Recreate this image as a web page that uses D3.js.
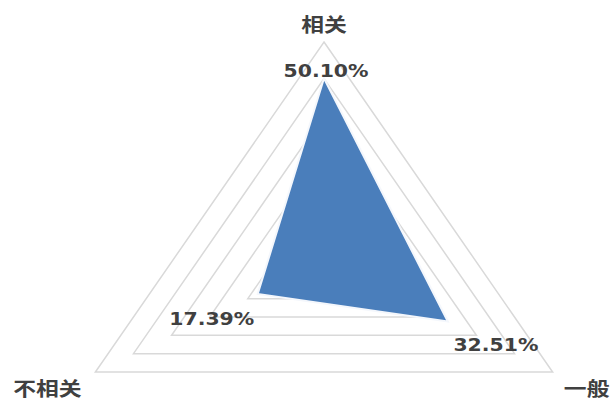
<!DOCTYPE html>
<html>
<head>
<meta charset="utf-8">
<script src="https://cdn.jsdelivr.net/npm/d3@7/dist/d3.min.js"></script>
<style>
  html, body { margin: 0; padding: 0; background: #fff; }
  svg { display: block; }
</style>
</head>
<body>
<svg id="chart" width="613" height="401"></svg>
<script>
// ---- data ----
const categories = ["相关", "一般", "不相关"];
const values = [0.5010, 0.3251, 0.1739];
const valueLabels = ["50.10%", "32.51%", "17.39%"];
const ringTicks = [0.1, 0.2, 0.3, 0.4, 0.5, 0.6];

// ---- layout ----
const W = 613, H = 401;
const cx = 324, cy = 262;
const sx = 1.2; // horizontal stretch of the original picture
const r = d3.scaleLinear().domain([0, 0.6]).range([0, 220]);
const angle = d3.scalePoint().domain(categories).range([-Math.PI / 2, -Math.PI / 2 + 2 * Math.PI * 2 / 3]);

function pt(cat, v) {
  const a = angle(cat);
  return [cx + sx * r(v) * Math.cos(a), cy + r(v) * Math.sin(a)];
}

const svg = d3.select("#chart");
svg.append("rect").attr("width", W).attr("height", H).attr("fill", "#fff");

// grid rings
const line = d3.line().curve(d3.curveLinearClosed);
svg.append("g").selectAll("path")
  .data(ringTicks)
  .join("path")
  .attr("d", t => line(categories.map(c => pt(c, t))))
  .attr("fill", "none")
  .attr("stroke", "#d9d9d9")
  .attr("stroke-width", 1.5);

// data polygon
svg.append("path")
  .attr("d", line(categories.map((c, i) => pt(c, values[i]))))
  .attr("fill", "#4a7ebb")
  .attr("stroke", "#f4f7fc")
  .attr("stroke-width", 2)
  .attr("stroke-linejoin", "miter");

// category labels
const catOffsets = [[0, -18], [34, 16], [-48, 16]];
svg.append("g").selectAll("text")
  .data(categories)
  .join("text")
  .attr("transform", (c, i) => {
    const p = pt(c, 0.6);
    return `translate(${p[0] + catOffsets[i][0]},${p[1] + catOffsets[i][1]}) scale(${sx},1)`;
  })
  .attr("text-anchor", "middle")
  .attr("dominant-baseline", "central")
  .attr("font-family", "'Noto Sans CJK SC', 'Noto Sans', sans-serif")
  .attr("font-weight", "bold")
  .attr("font-size", 19)
  .attr("fill", "#404040")
  .text(c => c);

// value labels
const valOffsets = [[2, -7], [48, 24], [-46, 25]];
svg.append("g").selectAll("text")
  .data(categories)
  .join("text")
  .attr("transform", (c, i) => {
    const p = pt(c, values[i]);
    return `translate(${p[0] + valOffsets[i][0]},${p[1] + valOffsets[i][1]}) scale(${sx},1)`;
  })
  .attr("text-anchor", "middle")
  .attr("dominant-baseline", "central")
  .attr("font-family", "'DejaVu Sans', sans-serif")
  .attr("font-weight", "bold")
  .attr("font-size", 17)
  .attr("fill", "#404040")
  .text((c, i) => valueLabels[i]);
</script>
</body>
</html>
